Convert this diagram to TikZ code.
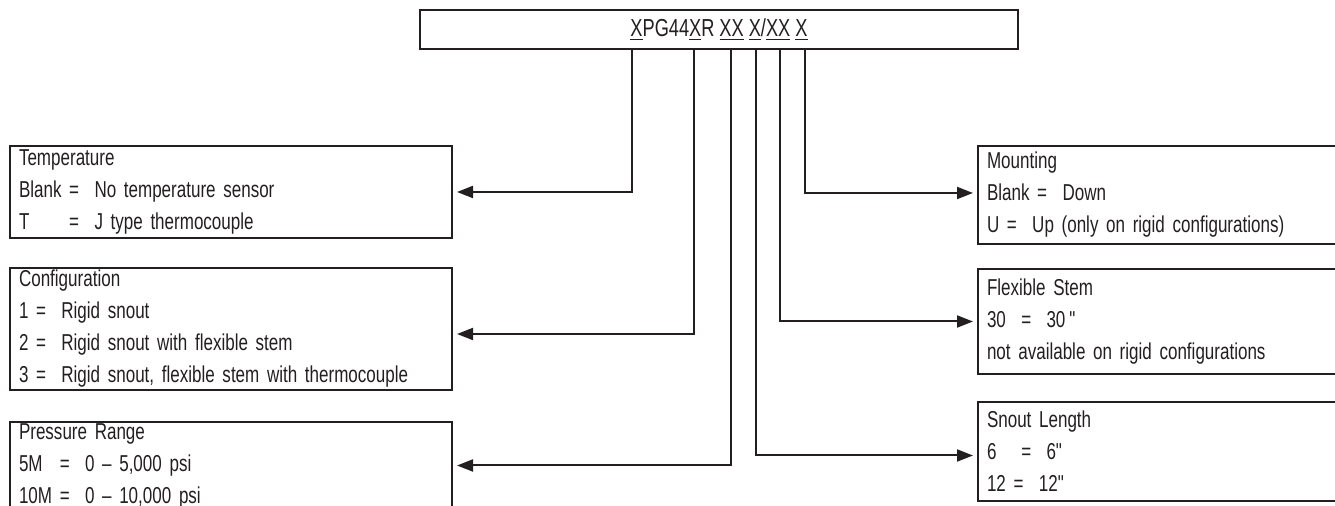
\documentclass[tikz,border=0pt]{standalone}
\usepackage{fontspec}
\setmainfont{Liberation Sans}[FakeStretch=0.74]
\usepackage{calc}
\usetikzlibrary{arrows.meta}
\definecolor{ink}{HTML}{231F20}

\begin{document}
\begin{tikzpicture}[x=0.5pt, y=-0.5pt, color=ink,
  codebox/.style={draw, line width=1pt, minimum width=299pt, minimum height=19.5pt, inner sep=0pt, font=\fontsize{12.3}{14}\selectfont},
  infobox/.style={draw, line width=1pt, anchor=north west, align=left, inner xsep=4.5pt, inner ysep=0pt, font=\fontsize{11.5}{16}\selectfont},
  leftbox/.style={infobox, text width=212pt, minimum width=221pt},
  rightbox/.style={infobox, text width=175pt, minimum width=184pt},
  link/.style={line width=1pt, -{Triangle[length=8pt,width=6pt]}, shorten >=2pt}]
\useasboundingbox (0,0) rectangle (1335,506);

% part number
\node[codebox] (code) at (719,29.5) {\underline{X}PG44\underline{X}R \underline{XX} \underline{X}/\underline{XX} \underline{X}};
\foreach \n/\x in {1/632,2/694,3/731,4/756,5/780,6/805}
  \coordinate (tap\n) at (code.south -| \x,0);

% left side
\node[leftbox, minimum height=46pt] (temp) at (9,145) {Temperature\\
  Blank =\ \ No temperature sensor\\
  \makebox[\widthof{Blank\ }][l]{T}=\ \ J type thermocouple};
\node[leftbox, minimum height=61pt] (conf) at (9,267) {Configuration\\
  1 =\ \ Rigid snout\\
  2 =\ \ Rigid snout with flexible stem\\
  3 =\ \ Rigid snout, flexible stem with thermocouple};
\node[leftbox, minimum height=43.5pt] (pres) at (9,421) {Pressure Range\\
  \makebox[\widthof{10M\ }][l]{5M}=\ \ 0 – 5,000 psi\\
  10M =\ \ 0 – 10,000 psi};

% right side
\node[rightbox, minimum height=49pt] (mount) at (977,145) {Mounting\\
  Blank =\ \ Down\\
  U =\ \ Up (only on rigid configurations)};
\node[rightbox, minimum height=52.5pt] (flex) at (977,268) {Flexible Stem\\
  30\ \ =\ \ 30\,\textquotedbl\\
  not available on rigid configurations};
\node[rightbox, minimum height=49.5pt] (snout) at (977,401) {Snout Length\\
  \makebox[\widthof{12\ }][l]{6}\ =\ \ 6\textquotedbl\\
  12 =\ \ 12\textquotedbl};

% connectors
\draw[link] (tap1) |- (temp.east);
\draw[link] (tap2) |- ([yshift=-2.5pt]conf.east);
\draw[link] (tap3) |- (pres.east);
\draw[link] (tap4) |- ([yshift=-2pt]snout.west);
\draw[link] (tap5) |- (flex.west);
\draw[link] (tap6) |- ([yshift=1pt]mount.west);
\end{tikzpicture}
\end{document}
